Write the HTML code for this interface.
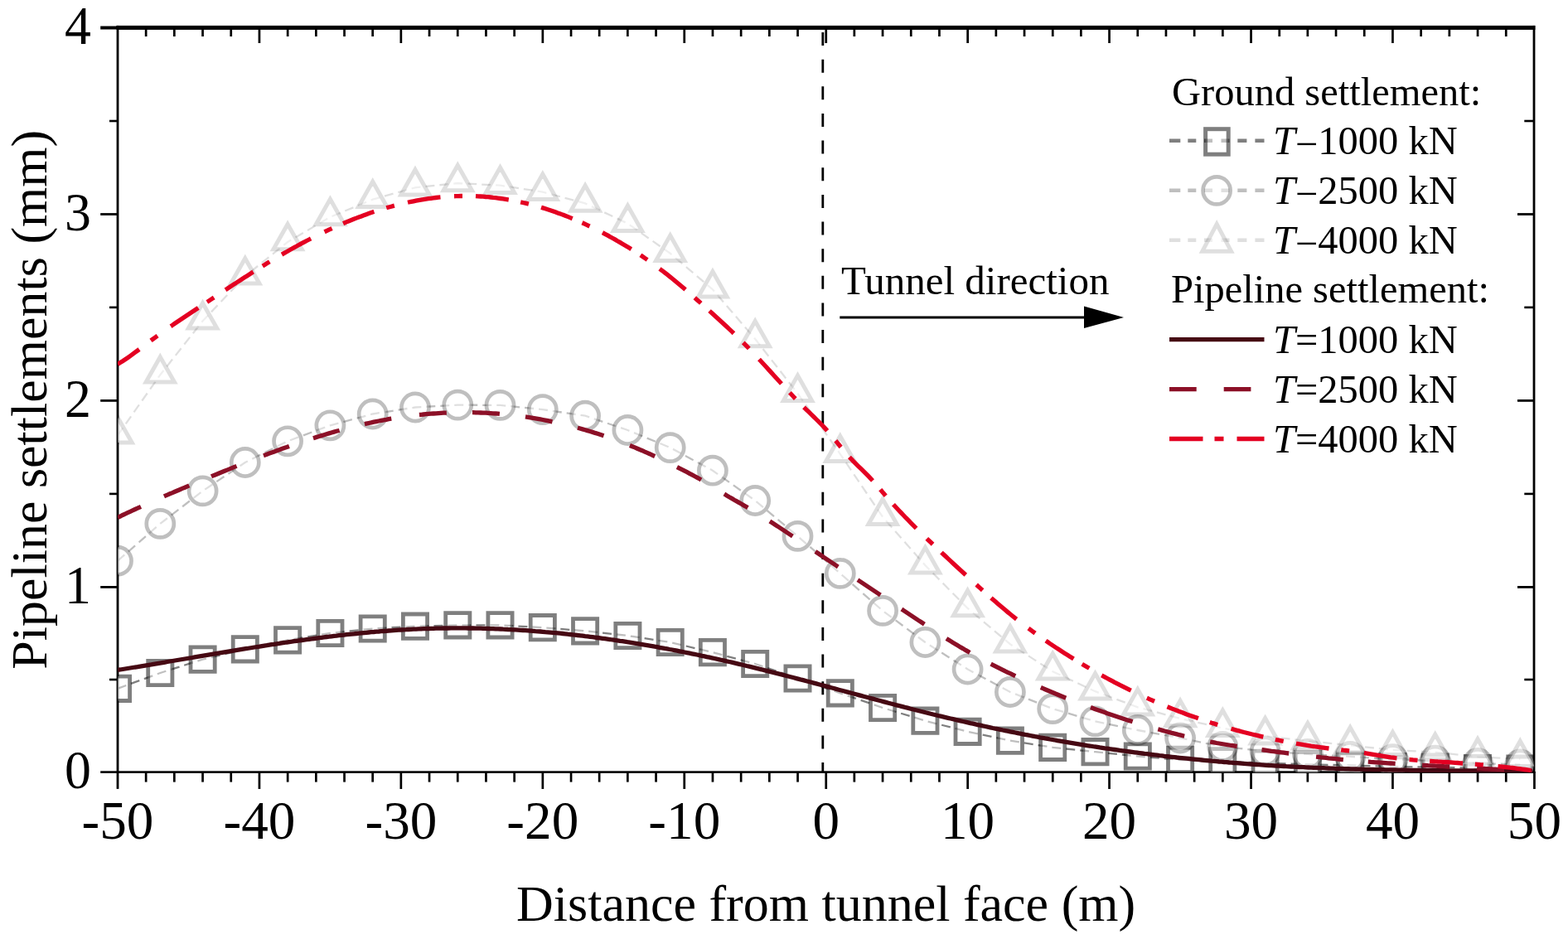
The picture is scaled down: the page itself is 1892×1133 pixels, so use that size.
<!DOCTYPE html><html><head><meta charset="utf-8"><title>Pipeline settlements</title><style>html,body{margin:0;padding:0;background:#fff;width:1892px;height:1133px;overflow:hidden}svg{display:block}text{font-family:"Liberation Serif","Times New Roman",serif;fill:#000}</style></head><body>
<svg width="1892" height="1133" viewBox="0 0 1892 1133">
<defs><clipPath id="pa"><rect x="142" y="33" width="1709.5" height="899"/></clipPath></defs>
<rect width="1892" height="1133" fill="#fff"/>
<rect x="140.6" y="30.9" width="1711.8" height="5" fill="#000"/>
<rect x="140.6" y="30.9" width="2.8" height="921" fill="#000"/>
<rect x="1849.6" y="30.9" width="2.8" height="902" fill="#000"/>
<rect x="121.2" y="930.3" width="1731" height="2.6" fill="#000"/>
<rect x="174.8" y="931" width="2.7" height="12.6" fill="#000"/>
<rect x="174.8" y="34" width="2.7" height="10" fill="#000"/>
<rect x="209.0" y="931" width="2.7" height="12.6" fill="#000"/>
<rect x="209.0" y="34" width="2.7" height="10" fill="#000"/>
<rect x="243.2" y="931" width="2.7" height="12.6" fill="#000"/>
<rect x="243.2" y="34" width="2.7" height="10" fill="#000"/>
<rect x="277.4" y="931" width="2.7" height="12.6" fill="#000"/>
<rect x="277.4" y="34" width="2.7" height="10" fill="#000"/>
<rect x="311.6" y="931" width="2.7" height="21" fill="#000"/>
<rect x="311.6" y="34" width="2.7" height="18" fill="#000"/>
<rect x="345.8" y="931" width="2.7" height="12.6" fill="#000"/>
<rect x="345.8" y="34" width="2.7" height="10" fill="#000"/>
<rect x="380.0" y="931" width="2.7" height="12.6" fill="#000"/>
<rect x="380.0" y="34" width="2.7" height="10" fill="#000"/>
<rect x="414.2" y="931" width="2.7" height="12.6" fill="#000"/>
<rect x="414.2" y="34" width="2.7" height="10" fill="#000"/>
<rect x="448.3" y="931" width="2.7" height="12.6" fill="#000"/>
<rect x="448.3" y="34" width="2.7" height="10" fill="#000"/>
<rect x="482.5" y="931" width="2.7" height="21" fill="#000"/>
<rect x="482.5" y="34" width="2.7" height="18" fill="#000"/>
<rect x="516.7" y="931" width="2.7" height="12.6" fill="#000"/>
<rect x="516.7" y="34" width="2.7" height="10" fill="#000"/>
<rect x="550.9" y="931" width="2.7" height="12.6" fill="#000"/>
<rect x="550.9" y="34" width="2.7" height="10" fill="#000"/>
<rect x="585.1" y="931" width="2.7" height="12.6" fill="#000"/>
<rect x="585.1" y="34" width="2.7" height="10" fill="#000"/>
<rect x="619.3" y="931" width="2.7" height="12.6" fill="#000"/>
<rect x="619.3" y="34" width="2.7" height="10" fill="#000"/>
<rect x="653.5" y="931" width="2.7" height="21" fill="#000"/>
<rect x="653.5" y="34" width="2.7" height="18" fill="#000"/>
<rect x="687.7" y="931" width="2.7" height="12.6" fill="#000"/>
<rect x="687.7" y="34" width="2.7" height="10" fill="#000"/>
<rect x="721.8" y="931" width="2.7" height="12.6" fill="#000"/>
<rect x="721.8" y="34" width="2.7" height="10" fill="#000"/>
<rect x="756.0" y="931" width="2.7" height="12.6" fill="#000"/>
<rect x="756.0" y="34" width="2.7" height="10" fill="#000"/>
<rect x="790.2" y="931" width="2.7" height="12.6" fill="#000"/>
<rect x="790.2" y="34" width="2.7" height="10" fill="#000"/>
<rect x="824.4" y="931" width="2.7" height="21" fill="#000"/>
<rect x="824.4" y="34" width="2.7" height="18" fill="#000"/>
<rect x="858.6" y="931" width="2.7" height="12.6" fill="#000"/>
<rect x="858.6" y="34" width="2.7" height="10" fill="#000"/>
<rect x="892.8" y="931" width="2.7" height="12.6" fill="#000"/>
<rect x="892.8" y="34" width="2.7" height="10" fill="#000"/>
<rect x="927.0" y="931" width="2.7" height="12.6" fill="#000"/>
<rect x="927.0" y="34" width="2.7" height="10" fill="#000"/>
<rect x="961.2" y="931" width="2.7" height="12.6" fill="#000"/>
<rect x="961.2" y="34" width="2.7" height="10" fill="#000"/>
<rect x="995.4" y="931" width="2.7" height="21" fill="#000"/>
<rect x="995.4" y="34" width="2.7" height="18" fill="#000"/>
<rect x="1029.5" y="931" width="2.7" height="12.6" fill="#000"/>
<rect x="1029.5" y="34" width="2.7" height="10" fill="#000"/>
<rect x="1063.7" y="931" width="2.7" height="12.6" fill="#000"/>
<rect x="1063.7" y="34" width="2.7" height="10" fill="#000"/>
<rect x="1097.9" y="931" width="2.7" height="12.6" fill="#000"/>
<rect x="1097.9" y="34" width="2.7" height="10" fill="#000"/>
<rect x="1132.1" y="931" width="2.7" height="12.6" fill="#000"/>
<rect x="1132.1" y="34" width="2.7" height="10" fill="#000"/>
<rect x="1166.3" y="931" width="2.7" height="21" fill="#000"/>
<rect x="1166.3" y="34" width="2.7" height="18" fill="#000"/>
<rect x="1200.5" y="931" width="2.7" height="12.6" fill="#000"/>
<rect x="1200.5" y="34" width="2.7" height="10" fill="#000"/>
<rect x="1234.7" y="931" width="2.7" height="12.6" fill="#000"/>
<rect x="1234.7" y="34" width="2.7" height="10" fill="#000"/>
<rect x="1268.9" y="931" width="2.7" height="12.6" fill="#000"/>
<rect x="1268.9" y="34" width="2.7" height="10" fill="#000"/>
<rect x="1303.0" y="931" width="2.7" height="12.6" fill="#000"/>
<rect x="1303.0" y="34" width="2.7" height="10" fill="#000"/>
<rect x="1337.2" y="931" width="2.7" height="21" fill="#000"/>
<rect x="1337.2" y="34" width="2.7" height="18" fill="#000"/>
<rect x="1371.4" y="931" width="2.7" height="12.6" fill="#000"/>
<rect x="1371.4" y="34" width="2.7" height="10" fill="#000"/>
<rect x="1405.6" y="931" width="2.7" height="12.6" fill="#000"/>
<rect x="1405.6" y="34" width="2.7" height="10" fill="#000"/>
<rect x="1439.8" y="931" width="2.7" height="12.6" fill="#000"/>
<rect x="1439.8" y="34" width="2.7" height="10" fill="#000"/>
<rect x="1474.0" y="931" width="2.7" height="12.6" fill="#000"/>
<rect x="1474.0" y="34" width="2.7" height="10" fill="#000"/>
<rect x="1508.2" y="931" width="2.7" height="21" fill="#000"/>
<rect x="1508.2" y="34" width="2.7" height="18" fill="#000"/>
<rect x="1542.4" y="931" width="2.7" height="12.6" fill="#000"/>
<rect x="1542.4" y="34" width="2.7" height="10" fill="#000"/>
<rect x="1576.5" y="931" width="2.7" height="12.6" fill="#000"/>
<rect x="1576.5" y="34" width="2.7" height="10" fill="#000"/>
<rect x="1610.7" y="931" width="2.7" height="12.6" fill="#000"/>
<rect x="1610.7" y="34" width="2.7" height="10" fill="#000"/>
<rect x="1644.9" y="931" width="2.7" height="12.6" fill="#000"/>
<rect x="1644.9" y="34" width="2.7" height="10" fill="#000"/>
<rect x="1679.1" y="931" width="2.7" height="21" fill="#000"/>
<rect x="1679.1" y="34" width="2.7" height="18" fill="#000"/>
<rect x="1713.3" y="931" width="2.7" height="12.6" fill="#000"/>
<rect x="1713.3" y="34" width="2.7" height="10" fill="#000"/>
<rect x="1747.5" y="931" width="2.7" height="12.6" fill="#000"/>
<rect x="1747.5" y="34" width="2.7" height="10" fill="#000"/>
<rect x="1781.7" y="931" width="2.7" height="12.6" fill="#000"/>
<rect x="1781.7" y="34" width="2.7" height="10" fill="#000"/>
<rect x="1815.9" y="931" width="2.7" height="12.6" fill="#000"/>
<rect x="1815.9" y="34" width="2.7" height="10" fill="#000"/>
<rect x="1850.1" y="931" width="2.7" height="21" fill="#000"/>
<rect x="121.2" y="707.0" width="21" height="2.8" fill="#000"/>
<rect x="1831" y="707.0" width="20" height="2.8" fill="#000"/>
<rect x="121.2" y="482.0" width="21" height="2.8" fill="#000"/>
<rect x="1831" y="482.0" width="20" height="2.8" fill="#000"/>
<rect x="121.2" y="257.1" width="21" height="2.8" fill="#000"/>
<rect x="1831" y="257.1" width="20" height="2.8" fill="#000"/>
<rect x="121.2" y="31.5" width="21" height="4" fill="#000"/>
<rect x="132" y="818.7" width="10" height="2.6" fill="#000"/>
<rect x="1839.3" y="818.7" width="11" height="2.6" fill="#000"/>
<rect x="132" y="594.6" width="10" height="2.6" fill="#000"/>
<rect x="1839.3" y="594.6" width="11" height="2.6" fill="#000"/>
<rect x="132" y="369.6" width="10" height="2.6" fill="#000"/>
<rect x="1839.3" y="369.6" width="11" height="2.6" fill="#000"/>
<rect x="132" y="144.7" width="10" height="2.6" fill="#000"/>
<rect x="1839.3" y="144.7" width="11" height="2.6" fill="#000"/>
<text transform="translate(110 951.1) scale(0.96 1)" font-size="66.5" text-anchor="end">0</text>
<text transform="translate(110 727.9) scale(0.96 1)" font-size="66.5" text-anchor="end">1</text>
<text transform="translate(110 502.9) scale(0.96 1)" font-size="66.5" text-anchor="end">2</text>
<text transform="translate(110 278.0) scale(0.96 1)" font-size="66.5" text-anchor="end">3</text>
<text transform="translate(110 53.0) scale(0.96 1)" font-size="66.5" text-anchor="end">4</text>
<text transform="translate(142.0 1012.3) scale(0.98 1)" font-size="66.5" text-anchor="middle">-50</text>
<text transform="translate(312.9 1012.3) scale(0.98 1)" font-size="66.5" text-anchor="middle">-40</text>
<text transform="translate(483.9 1012.3) scale(0.98 1)" font-size="66.5" text-anchor="middle">-30</text>
<text transform="translate(654.8 1012.3) scale(0.98 1)" font-size="66.5" text-anchor="middle">-20</text>
<text transform="translate(825.8 1012.3) scale(0.98 1)" font-size="66.5" text-anchor="middle">-10</text>
<text transform="translate(996.7 1012.3) scale(0.98 1)" font-size="66.5" text-anchor="middle">0</text>
<text transform="translate(1167.6 1012.3) scale(0.98 1)" font-size="66.5" text-anchor="middle">10</text>
<text transform="translate(1338.6 1012.3) scale(0.98 1)" font-size="66.5" text-anchor="middle">20</text>
<text transform="translate(1509.5 1012.3) scale(0.98 1)" font-size="66.5" text-anchor="middle">30</text>
<text transform="translate(1680.5 1012.3) scale(0.98 1)" font-size="66.5" text-anchor="middle">40</text>
<text transform="translate(1851.4 1012.3) scale(0.98 1)" font-size="66.5" text-anchor="middle">50</text>
<text x="996.6" y="1110.8" font-size="62" text-anchor="middle">Distance from tunnel face (m)</text>
<text transform="translate(56 482.3) rotate(-90)" font-size="62" text-anchor="middle">Pipeline settlements (mm)</text>
<line x1="992.8" y1="39.1" x2="992.8" y2="931" stroke="#000" stroke-width="2.8" stroke-dasharray="16 16.63"/>
<g clip-path="url(#pa)">
<polyline points="142.0,830.8 193.3,812.0 244.6,795.6 295.8,783.3 347.1,772.4 398.4,764.0 449.7,758.5 501.0,755.7 552.3,754.3 603.5,754.3 654.8,757.2 706.1,761.3 757.4,767.0 808.7,775.0 859.9,787.1 911.2,801.0 962.5,818.5 1013.8,836.3 1065.1,854.0 1116.4,869.7 1167.6,882.8 1218.9,893.7 1270.2,901.8 1321.5,907.2 1372.8,912.5 1424.1,916.9 1475.3,918.4 1526.6,920.8 1577.9,922.2 1629.2,923.5 1680.5,925.0 1731.7,925.6 1783.0,927.0 1834.3,927.7" fill="none" stroke="#000" stroke-opacity="0.5" stroke-width="2.3" stroke-dasharray="11 6"/>
<path d="M127.4,816.1h29.2v29.4h-29.2ZM178.7,797.3h29.2v29.4h-29.2ZM230.0,780.9h29.2v29.4h-29.2ZM281.2,768.6h29.2v29.4h-29.2ZM332.5,757.7h29.2v29.4h-29.2ZM383.8,749.3h29.2v29.4h-29.2ZM435.1,743.8h29.2v29.4h-29.2ZM486.4,741.0h29.2v29.4h-29.2ZM537.7,739.6h29.2v29.4h-29.2ZM588.9,739.6h29.2v29.4h-29.2ZM640.2,742.5h29.2v29.4h-29.2ZM691.5,746.6h29.2v29.4h-29.2ZM742.8,752.3h29.2v29.4h-29.2ZM794.1,760.3h29.2v29.4h-29.2ZM845.3,772.4h29.2v29.4h-29.2ZM896.6,786.3h29.2v29.4h-29.2ZM947.9,803.8h29.2v29.4h-29.2ZM999.2,821.6h29.2v29.4h-29.2ZM1050.5,839.3h29.2v29.4h-29.2ZM1101.8,855.0h29.2v29.4h-29.2ZM1153.0,868.1h29.2v29.4h-29.2ZM1204.3,879.0h29.2v29.4h-29.2ZM1255.6,887.1h29.2v29.4h-29.2ZM1306.9,892.5h29.2v29.4h-29.2ZM1358.2,897.8h29.2v29.4h-29.2ZM1409.5,902.2h29.2v29.4h-29.2ZM1460.7,903.7h29.2v29.4h-29.2ZM1512.0,906.1h29.2v29.4h-29.2ZM1563.3,907.5h29.2v29.4h-29.2ZM1614.6,908.8h29.2v29.4h-29.2ZM1665.9,910.3h29.2v29.4h-29.2ZM1717.1,910.9h29.2v29.4h-29.2ZM1768.4,912.3h29.2v29.4h-29.2ZM1819.7,913.0h29.2v29.4h-29.2Z" fill="#fff" fill-opacity="0.5" stroke="#000" stroke-opacity="0.5" stroke-width="4.8"/>
<polyline points="142.0,676.7 193.3,631.9 244.6,592.4 295.8,558.0 347.1,532.3 398.4,513.3 449.7,499.5 501.0,491.5 552.3,488.6 603.5,488.9 654.8,494.1 706.1,501.7 757.4,519.0 808.7,540.1 859.9,567.7 911.2,604.0 962.5,646.9 1013.8,691.9 1065.1,736.9 1116.4,775.0 1167.6,807.5 1218.9,835.0 1270.2,855.1 1321.5,870.4 1372.8,881.0 1424.1,890.5 1475.3,900.9 1526.6,906.4 1577.9,909.9 1629.2,912.9 1680.5,916.2 1731.7,917.7 1783.0,921.0 1834.3,922.4" fill="none" stroke="#000" stroke-opacity="0.25" stroke-width="2.3" stroke-dasharray="11 6"/>
<g fill="#fff" fill-opacity="0.5" stroke="#000" stroke-opacity="0.25" stroke-width="4.7"><circle cx="142.0" cy="676.7" r="16.55"/><circle cx="193.3" cy="631.9" r="16.55"/><circle cx="244.6" cy="592.4" r="16.55"/><circle cx="295.8" cy="558.0" r="16.55"/><circle cx="347.1" cy="532.3" r="16.55"/><circle cx="398.4" cy="513.3" r="16.55"/><circle cx="449.7" cy="499.5" r="16.55"/><circle cx="501.0" cy="491.5" r="16.55"/><circle cx="552.3" cy="488.6" r="16.55"/><circle cx="603.5" cy="488.9" r="16.55"/><circle cx="654.8" cy="494.1" r="16.55"/><circle cx="706.1" cy="501.7" r="16.55"/><circle cx="757.4" cy="519.0" r="16.55"/><circle cx="808.7" cy="540.1" r="16.55"/><circle cx="859.9" cy="567.7" r="16.55"/><circle cx="911.2" cy="604.0" r="16.55"/><circle cx="962.5" cy="646.9" r="16.55"/><circle cx="1013.8" cy="691.9" r="16.55"/><circle cx="1065.1" cy="736.9" r="16.55"/><circle cx="1116.4" cy="775.0" r="16.55"/><circle cx="1167.6" cy="807.5" r="16.55"/><circle cx="1218.9" cy="835.0" r="16.55"/><circle cx="1270.2" cy="855.1" r="16.55"/><circle cx="1321.5" cy="870.4" r="16.55"/><circle cx="1372.8" cy="881.0" r="16.55"/><circle cx="1424.1" cy="890.5" r="16.55"/><circle cx="1475.3" cy="900.9" r="16.55"/><circle cx="1526.6" cy="906.4" r="16.55"/><circle cx="1577.9" cy="909.9" r="16.55"/><circle cx="1629.2" cy="912.9" r="16.55"/><circle cx="1680.5" cy="916.2" r="16.55"/><circle cx="1731.7" cy="917.7" r="16.55"/><circle cx="1783.0" cy="921.0" r="16.55"/><circle cx="1834.3" cy="922.4" r="16.55"/></g>
<polyline points="142.0,525.2 193.3,452.3 244.6,387.3 295.8,333.3 347.1,292.0 398.4,261.9 449.7,240.7 501.0,226.3 552.3,221.0 603.5,223.7 654.8,231.6 706.1,245.4 757.4,269.7 808.7,305.7 859.9,349.2 911.2,409.0 962.5,474.7 1013.8,547.8 1065.1,623.8 1116.4,682.1 1167.6,734.0 1218.9,777.2 1270.2,810.2 1321.5,834.2 1372.8,853.3 1424.1,867.0 1475.3,878.6 1526.6,888.2 1577.9,894.1 1629.2,899.3 1680.5,905.0 1731.7,907.6 1783.0,913.3 1834.3,915.8" fill="none" stroke="#000" stroke-opacity="0.125" stroke-width="2.3" stroke-dasharray="11 6"/>
<path d="M142.0,503.6L159.2,534.0L124.8,534.0ZM193.3,430.7L210.5,461.1L176.1,461.1ZM244.6,365.7L261.8,396.1L227.4,396.1ZM295.8,311.7L313.0,342.1L278.6,342.1ZM347.1,270.4L364.3,300.8L329.9,300.8ZM398.4,240.3L415.6,270.7L381.2,270.7ZM449.7,219.1L466.9,249.5L432.5,249.5ZM501.0,204.7L518.2,235.1L483.8,235.1ZM552.3,199.4L569.5,229.8L535.1,229.8ZM603.5,202.1L620.7,232.5L586.3,232.5ZM654.8,210.0L672.0,240.4L637.6,240.4ZM706.1,223.8L723.3,254.2L688.9,254.2ZM757.4,248.1L774.6,278.5L740.2,278.5ZM808.7,284.1L825.9,314.5L791.5,314.5ZM859.9,327.6L877.1,358.0L842.7,358.0ZM911.2,387.4L928.4,417.8L894.0,417.8ZM962.5,453.1L979.7,483.5L945.3,483.5ZM1013.8,526.2L1031.0,556.6L996.6,556.6ZM1065.1,602.2L1082.3,632.6L1047.9,632.6ZM1116.4,660.5L1133.6,690.9L1099.2,690.9ZM1167.6,712.4L1184.8,742.8L1150.4,742.8ZM1218.9,755.6L1236.1,786.0L1201.7,786.0ZM1270.2,788.6L1287.4,819.0L1253.0,819.0ZM1321.5,812.6L1338.7,843.0L1304.3,843.0ZM1372.8,831.7L1390.0,862.1L1355.6,862.1ZM1424.1,845.4L1441.3,875.8L1406.9,875.8ZM1475.3,857.0L1492.5,887.4L1458.1,887.4ZM1526.6,866.6L1543.8,897.0L1509.4,897.0ZM1577.9,872.5L1595.1,902.9L1560.7,902.9ZM1629.2,877.7L1646.4,908.1L1612.0,908.1ZM1680.5,883.4L1697.7,913.8L1663.3,913.8ZM1731.7,886.0L1748.9,916.4L1714.5,916.4ZM1783.0,891.7L1800.2,922.1L1765.8,922.1ZM1834.3,894.2L1851.5,924.6L1817.1,924.6Z" fill="#fff" fill-opacity="0.5" stroke="#000" stroke-opacity="0.125" stroke-width="5"/>
<polyline points="142.0,808.4 145.0,808.0 148.0,807.5 151.0,807.0 154.0,806.5 157.0,806.0 160.0,805.5 163.0,805.0 166.0,804.6 169.0,804.1 172.0,803.6 175.0,803.1 178.0,802.6 181.0,802.1 184.0,801.6 187.0,801.1 190.0,800.6 193.0,800.1 196.0,799.6 199.0,799.1 202.0,798.5 205.0,798.0 208.0,797.5 211.0,797.0 214.0,796.5 217.0,796.0 220.0,795.5 223.0,795.0 226.0,794.5 229.0,794.0 232.0,793.5 235.0,792.9 238.0,792.4 241.0,791.9 244.0,791.4 247.0,790.9 250.0,790.4 253.0,789.9 256.0,789.4 259.0,788.9 262.0,788.4 265.0,787.9 268.0,787.4 271.0,786.9 274.0,786.4 277.0,785.9 280.0,785.4 283.0,784.9 286.0,784.4 289.0,783.9 292.0,783.4 295.0,782.9 298.0,782.5 301.0,782.0 304.0,781.5 307.0,781.0 310.0,780.5 313.0,780.1 316.0,779.6 319.0,779.1 322.0,778.7 325.0,778.2 328.0,777.7 331.0,777.3 334.0,776.8 337.0,776.4 340.0,775.9 343.0,775.5 346.0,775.0 349.0,774.6 352.0,774.2 355.0,773.7 358.0,773.3 361.0,772.9 364.0,772.5 367.0,772.1 370.0,771.7 373.0,771.3 376.0,770.9 379.0,770.5 382.0,770.1 385.0,769.7 388.0,769.3 391.0,768.9 394.0,768.5 397.0,768.2 400.0,767.8 403.0,767.4 406.0,767.1 409.0,766.7 412.0,766.4 415.0,766.1 418.0,765.7 421.0,765.4 424.0,765.1 427.0,764.8 430.0,764.5 433.0,764.2 436.0,763.9 439.0,763.6 442.0,763.3 445.0,763.0 448.0,762.7 451.0,762.5 454.0,762.2 457.0,762.0 460.0,761.7 463.0,761.5 466.0,761.3 469.0,761.0 472.0,760.8 475.0,760.6 478.0,760.4 481.0,760.2 484.0,760.0 487.0,759.8 490.0,759.7 493.0,759.5 496.0,759.3 499.0,759.2 502.0,759.1 505.0,758.9 508.0,758.8 511.0,758.7 514.0,758.6 517.0,758.5 520.0,758.4 523.0,758.3 526.0,758.2 529.0,758.2 532.0,758.1 535.0,758.0 538.0,758.0 541.0,758.0 544.0,757.9 547.0,757.9 550.0,757.9 553.0,757.9 556.0,757.9 559.0,757.9 562.0,757.9 565.0,758.0 568.0,758.0 571.0,758.0 574.0,758.1 577.0,758.2 580.0,758.2 583.0,758.3 586.0,758.4 589.0,758.5 592.0,758.6 595.0,758.7 598.0,758.8 601.0,758.9 604.0,759.0 607.0,759.2 610.0,759.3 613.0,759.5 616.0,759.6 619.0,759.8 622.0,759.9 625.0,760.1 628.0,760.3 631.0,760.5 634.0,760.7 637.0,760.9 640.0,761.1 643.0,761.3 646.0,761.6 649.0,761.8 652.0,762.0 655.0,762.3 658.0,762.6 661.0,762.8 664.0,763.1 667.0,763.4 670.0,763.6 673.0,763.9 676.0,764.2 679.0,764.5 682.0,764.8 685.0,765.2 688.0,765.5 691.0,765.8 694.0,766.1 697.0,766.5 700.0,766.8 703.0,767.2 706.0,767.6 709.0,767.9 712.0,768.3 715.0,768.7 718.0,769.1 721.0,769.5 724.0,769.9 727.0,770.3 730.0,770.7 733.0,771.1 736.0,771.5 739.0,772.0 742.0,772.4 745.0,772.8 748.0,773.3 751.0,773.7 754.0,774.2 757.0,774.7 760.0,775.1 763.0,775.6 766.0,776.1 769.0,776.6 772.0,777.1 775.0,777.6 778.0,778.1 781.0,778.6 784.0,779.1 787.0,779.6 790.0,780.2 793.0,780.7 796.0,781.3 799.0,781.8 802.0,782.4 805.0,782.9 808.0,783.5 811.0,784.0 814.0,784.6 817.0,785.2 820.0,785.8 823.0,786.4 826.0,787.0 829.0,787.6 832.0,788.2 835.0,788.8 838.0,789.4 841.0,790.0 844.0,790.6 847.0,791.3 850.0,791.9 853.0,792.6 856.0,793.2 859.0,793.8 862.0,794.5 865.0,795.2 868.0,795.8 871.0,796.5 874.0,797.2 877.0,797.9 880.0,798.5 883.0,799.2 886.0,799.9 889.0,800.6 892.0,801.3 895.0,802.0 898.0,802.7 901.0,803.5 904.0,804.2 907.0,804.9 910.0,805.6 913.0,806.4 916.0,807.1 919.0,807.8 922.0,808.6 925.0,809.3 928.0,810.1 931.0,810.9 934.0,811.6 937.0,812.4 940.0,813.1 943.0,813.9 946.0,814.7 949.0,815.5 952.0,816.2 955.0,817.0 958.0,817.8 961.0,818.6 964.0,819.4 967.0,820.2 970.0,820.9 973.0,821.7 976.0,822.5 979.0,823.3 982.0,824.1 985.0,824.9 988.0,825.7 991.0,826.5 994.0,827.3 997.0,828.1 1000.0,828.9 1003.0,829.7 1006.0,830.5 1009.0,831.4 1012.0,832.2 1015.0,833.0 1018.0,833.8 1021.0,834.6 1024.0,835.4 1027.0,836.2 1030.0,837.0 1033.0,837.8 1036.0,838.6 1039.0,839.4 1042.0,840.2 1045.0,841.0 1048.0,841.8 1051.0,842.6 1054.0,843.4 1057.0,844.2 1060.0,845.0 1063.0,845.8 1066.0,846.6 1069.0,847.4 1072.0,848.2 1075.0,849.0 1078.0,849.8 1081.0,850.6 1084.0,851.3 1087.0,852.1 1090.0,852.9 1093.0,853.7 1096.0,854.4 1099.0,855.2 1102.0,856.0 1105.0,856.7 1108.0,857.5 1111.0,858.3 1114.0,859.0 1117.0,859.8 1120.0,860.5 1123.0,861.3 1126.0,862.0 1129.0,862.7 1132.0,863.5 1135.0,864.2 1138.0,864.9 1141.0,865.6 1144.0,866.3 1147.0,867.0 1150.0,867.7 1153.0,868.4 1156.0,869.1 1159.0,869.8 1162.0,870.5 1165.0,871.2 1168.0,871.9 1171.0,872.6 1174.0,873.2 1177.0,873.9 1180.0,874.6 1183.0,875.2 1186.0,875.9 1189.0,876.5 1192.0,877.2 1195.0,877.8 1198.0,878.5 1201.0,879.1 1204.0,879.7 1207.0,880.3 1210.0,881.0 1213.0,881.6 1216.0,882.2 1219.0,882.8 1222.0,883.4 1225.0,884.0 1228.0,884.6 1231.0,885.2 1234.0,885.8 1237.0,886.4 1240.0,886.9 1243.0,887.5 1246.0,888.1 1249.0,888.7 1252.0,889.2 1255.0,889.8 1258.0,890.3 1261.0,890.9 1264.0,891.4 1267.0,892.0 1270.0,892.5 1273.0,893.0 1276.0,893.6 1279.0,894.1 1282.0,894.6 1285.0,895.1 1288.0,895.6 1291.0,896.1 1294.0,896.6 1297.0,897.1 1300.0,897.6 1303.0,898.1 1306.0,898.6 1309.0,899.1 1312.0,899.6 1315.0,900.0 1318.0,900.5 1321.0,901.0 1324.0,901.4 1327.0,901.9 1330.0,902.3 1333.0,902.8 1336.0,903.2 1339.0,903.7 1342.0,904.1 1345.0,904.5 1348.0,904.9 1351.0,905.4 1354.0,905.8 1357.0,906.2 1360.0,906.6 1363.0,907.0 1366.0,907.4 1369.0,907.8 1372.0,908.2 1375.0,908.6 1378.0,909.0 1381.0,909.4 1384.0,909.7 1387.0,910.1 1390.0,910.5 1393.0,910.8 1396.0,911.2 1399.0,911.6 1402.0,911.9 1405.0,912.3 1408.0,912.6 1411.0,913.0 1414.0,913.3 1417.0,913.6 1420.0,914.0 1423.0,914.3 1426.0,914.6 1429.0,914.9 1432.0,915.2 1435.0,915.5 1438.0,915.8 1441.0,916.1 1444.0,916.4 1447.0,916.7 1450.0,917.0 1453.0,917.3 1456.0,917.6 1459.0,917.9 1462.0,918.2 1465.0,918.4 1468.0,918.7 1471.0,919.0 1474.0,919.2 1477.0,919.5 1480.0,919.7 1483.0,920.0 1486.0,920.2 1489.0,920.5 1492.0,920.7 1495.0,920.9 1498.0,921.2 1501.0,921.4 1504.0,921.6 1507.0,921.8 1510.0,922.0 1513.0,922.3 1516.0,922.5 1519.0,922.7 1522.0,922.9 1525.0,923.1 1528.0,923.3 1531.0,923.5 1534.0,923.6 1537.0,923.8 1540.0,924.0 1543.0,924.2 1546.0,924.3 1549.0,924.5 1552.0,924.7 1555.0,924.8 1558.0,925.0 1561.0,925.2 1564.0,925.3 1567.0,925.5 1570.0,925.6 1573.0,925.7 1576.0,925.9 1579.0,926.0 1582.0,926.1 1585.0,926.3 1588.0,926.4 1591.0,926.5 1594.0,926.6 1597.0,926.7 1600.0,926.9 1603.0,927.0 1606.0,927.1 1609.0,927.2 1612.0,927.3 1615.0,927.4 1618.0,927.5 1621.0,927.6 1624.0,927.7 1627.0,927.7 1630.0,927.8 1633.0,927.9 1636.0,928.0 1639.0,928.1 1642.0,928.2 1645.0,928.2 1648.0,928.3 1651.0,928.4 1654.0,928.4 1657.0,928.5 1660.0,928.6 1663.0,928.6 1666.0,928.7 1669.0,928.7 1672.0,928.8 1675.0,928.9 1678.0,928.9 1681.0,929.0 1684.0,929.0 1687.0,929.1 1690.0,929.1 1693.0,929.1 1696.0,929.2 1699.0,929.2 1702.0,929.3 1705.0,929.3 1708.0,929.3 1711.0,929.4 1714.0,929.4 1717.0,929.4 1720.0,929.5 1723.0,929.5 1726.0,929.5 1729.0,929.6 1732.0,929.6 1735.0,929.6 1738.0,929.7 1741.0,929.7 1744.0,929.7 1747.0,929.7 1750.0,929.8 1753.0,929.8 1756.0,929.8 1759.0,929.8 1762.0,929.8 1765.0,929.9 1768.0,929.9 1771.0,929.9 1774.0,929.9 1777.0,930.0 1780.0,930.0 1783.0,930.0 1786.0,930.0 1789.0,930.0 1792.0,930.1 1795.0,930.1 1798.0,930.1 1801.0,930.1 1804.0,930.1 1807.0,930.2 1810.0,930.2 1813.0,930.2 1816.0,930.2 1819.0,930.2 1822.0,930.3 1825.0,930.3 1828.0,930.3 1831.0,930.3 1834.0,930.4 1837.0,930.4 1840.0,930.4 1843.0,930.4 1846.0,930.5 1849.0,930.5" fill="none" stroke="#460913" stroke-width="5.3"/>
<polyline points="142.0,624.4 145.0,623.0 148.0,621.5 151.0,620.1 154.0,618.7 157.0,617.3 160.0,615.9 163.0,614.5 166.0,613.2 169.0,611.8 172.0,610.4 175.0,609.1 178.0,607.7 181.0,606.4 184.0,605.0 187.0,603.7 190.0,602.4 193.0,601.1 196.0,599.8 199.0,598.4 202.0,597.1 205.0,595.8 208.0,594.6 211.0,593.3 214.0,592.0 217.0,590.7 220.0,589.4 223.0,588.2 226.0,586.9 229.0,585.6 232.0,584.4 235.0,583.1 238.0,581.9 241.0,580.6 244.0,579.4 247.0,578.1 250.0,576.9 253.0,575.7 256.0,574.4 259.0,573.2 262.0,572.0 265.0,570.7 268.0,569.5 271.0,568.3 274.0,567.1 277.0,565.9 280.0,564.6 283.0,563.4 286.0,562.2 289.0,561.0 292.0,559.9 295.0,558.7 298.0,557.5 301.0,556.3 304.0,555.1 307.0,554.0 310.0,552.8 313.0,551.7 316.0,550.5 319.0,549.4 322.0,548.2 325.0,547.1 328.0,546.0 331.0,544.9 334.0,543.8 337.0,542.7 340.0,541.6 343.0,540.5 346.0,539.5 349.0,538.4 352.0,537.4 355.0,536.3 358.0,535.3 361.0,534.3 364.0,533.3 367.0,532.3 370.0,531.3 373.0,530.3 376.0,529.3 379.0,528.4 382.0,527.4 385.0,526.5 388.0,525.6 391.0,524.7 394.0,523.8 397.0,522.9 400.0,522.0 403.0,521.1 406.0,520.3 409.0,519.5 412.0,518.6 415.0,517.8 418.0,517.0 421.0,516.3 424.0,515.5 427.0,514.7 430.0,514.0 433.0,513.3 436.0,512.5 439.0,511.9 442.0,511.2 445.0,510.5 448.0,509.9 451.0,509.2 454.0,508.6 457.0,508.0 460.0,507.4 463.0,506.8 466.0,506.3 469.0,505.7 472.0,505.2 475.0,504.7 478.0,504.2 481.0,503.7 484.0,503.3 487.0,502.9 490.0,502.4 493.0,502.0 496.0,501.7 499.0,501.3 502.0,500.9 505.0,500.6 508.0,500.3 511.0,500.0 514.0,499.7 517.0,499.4 520.0,499.2 523.0,499.0 526.0,498.8 529.0,498.6 532.0,498.4 535.0,498.2 538.0,498.1 541.0,498.0 544.0,497.9 547.0,497.8 550.0,497.7 553.0,497.7 556.0,497.6 559.0,497.6 562.0,497.6 565.0,497.6 568.0,497.7 571.0,497.7 574.0,497.8 577.0,497.9 580.0,498.0 583.0,498.1 586.0,498.2 589.0,498.4 592.0,498.6 595.0,498.8 598.0,499.0 601.0,499.2 604.0,499.5 607.0,499.7 610.0,500.0 613.0,500.3 616.0,500.7 619.0,501.0 622.0,501.4 625.0,501.7 628.0,502.1 631.0,502.5 634.0,503.0 637.0,503.4 640.0,503.9 643.0,504.4 646.0,504.9 649.0,505.4 652.0,505.9 655.0,506.5 658.0,507.1 661.0,507.7 664.0,508.3 667.0,508.9 670.0,509.5 673.0,510.2 676.0,510.9 679.0,511.6 682.0,512.3 685.0,513.0 688.0,513.8 691.0,514.6 694.0,515.4 697.0,516.2 700.0,517.0 703.0,517.9 706.0,518.7 709.0,519.6 712.0,520.5 715.0,521.4 718.0,522.4 721.0,523.3 724.0,524.3 727.0,525.3 730.0,526.3 733.0,527.3 736.0,528.4 739.0,529.5 742.0,530.6 745.0,531.7 748.0,532.8 751.0,533.9 754.0,535.1 757.0,536.3 760.0,537.5 763.0,538.7 766.0,539.9 769.0,541.2 772.0,542.5 775.0,543.7 778.0,545.1 781.0,546.4 784.0,547.7 787.0,549.1 790.0,550.5 793.0,551.9 796.0,553.3 799.0,554.8 802.0,556.2 805.0,557.7 808.0,559.2 811.0,560.7 814.0,562.1 817.0,563.6 820.0,565.2 823.0,566.7 826.0,568.2 829.0,569.7 832.0,571.3 835.0,572.9 838.0,574.5 841.0,576.1 844.0,577.8 847.0,579.6 850.0,581.3 853.0,583.1 856.0,585.0 859.0,586.8 862.0,588.7 865.0,590.6 868.0,592.4 871.0,594.3 874.0,596.1 877.0,597.9 880.0,599.7 883.0,601.4 886.0,603.2 889.0,604.9 892.0,606.6 895.0,608.3 898.0,610.1 901.0,611.8 904.0,613.6 907.0,615.4 910.0,617.2 913.0,619.0 916.0,620.8 919.0,622.7 922.0,624.6 925.0,626.5 928.0,628.4 931.0,630.3 934.0,632.2 937.0,634.2 940.0,636.1 943.0,638.1 946.0,640.1 949.0,642.1 952.0,644.1 955.0,646.1 958.0,648.1 961.0,650.1 964.0,652.1 967.0,654.1 970.0,656.2 973.0,658.2 976.0,660.2 979.0,662.3 982.0,664.3 985.0,666.3 988.0,668.3 991.0,670.3 994.0,672.4 997.0,674.4 1000.0,676.4 1003.0,678.4 1006.0,680.4 1009.0,682.4 1012.0,684.4 1015.0,686.4 1018.0,688.4 1021.0,690.4 1024.0,692.4 1027.0,694.4 1030.0,696.4 1033.0,698.4 1036.0,700.4 1039.0,702.4 1042.0,704.4 1045.0,706.4 1048.0,708.4 1051.0,710.4 1054.0,712.4 1057.0,714.4 1060.0,716.4 1063.0,718.4 1066.0,720.4 1069.0,722.4 1072.0,724.4 1075.0,726.4 1078.0,728.4 1081.0,730.4 1084.0,732.4 1087.0,734.4 1090.0,736.4 1093.0,738.4 1096.0,740.4 1099.0,742.4 1102.0,744.4 1105.0,746.4 1108.0,748.4 1111.0,750.3 1114.0,752.3 1117.0,754.3 1120.0,756.3 1123.0,758.2 1126.0,760.2 1129.0,762.1 1132.0,764.1 1135.0,766.0 1138.0,767.9 1141.0,769.8 1144.0,771.7 1147.0,773.6 1150.0,775.4 1153.0,777.2 1156.0,779.1 1159.0,780.9 1162.0,782.6 1165.0,784.4 1168.0,786.1 1171.0,787.9 1174.0,789.6 1177.0,791.2 1180.0,792.9 1183.0,794.5 1186.0,796.1 1189.0,797.7 1192.0,799.3 1195.0,800.9 1198.0,802.4 1201.0,803.9 1204.0,805.4 1207.0,806.9 1210.0,808.4 1213.0,809.9 1216.0,811.3 1219.0,812.7 1222.0,814.2 1225.0,815.6 1228.0,817.0 1231.0,818.4 1234.0,819.8 1237.0,821.1 1240.0,822.5 1243.0,823.8 1246.0,825.2 1249.0,826.5 1252.0,827.8 1255.0,829.1 1258.0,830.4 1261.0,831.7 1264.0,833.0 1267.0,834.3 1270.0,835.5 1273.0,836.8 1276.0,838.0 1279.0,839.3 1282.0,840.5 1285.0,841.7 1288.0,842.9 1291.0,844.1 1294.0,845.2 1297.0,846.4 1300.0,847.6 1303.0,848.7 1306.0,849.9 1309.0,851.0 1312.0,852.1 1315.0,853.2 1318.0,854.3 1321.0,855.4 1324.0,856.5 1327.0,857.5 1330.0,858.6 1333.0,859.6 1336.0,860.7 1339.0,861.7 1342.0,862.7 1345.0,863.7 1348.0,864.7 1351.0,865.7 1354.0,866.7 1357.0,867.7 1360.0,868.7 1363.0,869.6 1366.0,870.5 1369.0,871.5 1372.0,872.4 1375.0,873.3 1378.0,874.2 1381.0,875.1 1384.0,876.0 1387.0,876.9 1390.0,877.8 1393.0,878.6 1396.0,879.5 1399.0,880.3 1402.0,881.1 1405.0,882.0 1408.0,882.8 1411.0,883.6 1414.0,884.4 1417.0,885.1 1420.0,885.9 1423.0,886.7 1426.0,887.4 1429.0,888.2 1432.0,888.9 1435.0,889.6 1438.0,890.3 1441.0,891.0 1444.0,891.6 1447.0,892.3 1450.0,892.9 1453.0,893.6 1456.0,894.2 1459.0,894.8 1462.0,895.3 1465.0,895.9 1468.0,896.5 1471.0,897.0 1474.0,897.5 1477.0,898.0 1480.0,898.5 1483.0,899.0 1486.0,899.5 1489.0,899.9 1492.0,900.4 1495.0,900.8 1498.0,901.3 1501.0,901.7 1504.0,902.2 1507.0,902.6 1510.0,903.0 1513.0,903.4 1516.0,903.8 1519.0,904.2 1522.0,904.6 1525.0,905.0 1528.0,905.4 1531.0,905.8 1534.0,906.3 1537.0,906.7 1540.0,907.1 1543.0,907.5 1546.0,907.8 1549.0,908.2 1552.0,908.6 1555.0,909.0 1558.0,909.4 1561.0,909.8 1564.0,910.2 1567.0,910.5 1570.0,910.9 1573.0,911.3 1576.0,911.7 1579.0,912.0 1582.0,912.4 1585.0,912.7 1588.0,913.1 1591.0,913.4 1594.0,913.8 1597.0,914.1 1600.0,914.4 1603.0,914.8 1606.0,915.1 1609.0,915.4 1612.0,915.7 1615.0,916.0 1618.0,916.3 1621.0,916.6 1624.0,916.9 1627.0,917.1 1630.0,917.4 1633.0,917.7 1636.0,917.9 1639.0,918.2 1642.0,918.4 1645.0,918.7 1648.0,918.9 1651.0,919.1 1654.0,919.4 1657.0,919.6 1660.0,919.8 1663.0,920.0 1666.0,920.2 1669.0,920.4 1672.0,920.6 1675.0,920.8 1678.0,921.0 1681.0,921.2 1684.0,921.4 1687.0,921.6 1690.0,921.8 1693.0,922.0 1696.0,922.1 1699.0,922.3 1702.0,922.5 1705.0,922.7 1708.0,922.8 1711.0,923.0 1714.0,923.2 1717.0,923.3 1720.0,923.5 1723.0,923.7 1726.0,923.8 1729.0,924.0 1732.0,924.2 1735.0,924.3 1738.0,924.5 1741.0,924.6 1744.0,924.8 1747.0,925.0 1750.0,925.1 1753.0,925.3 1756.0,925.5 1759.0,925.6 1762.0,925.8 1765.0,926.0 1768.0,926.1 1771.0,926.3 1774.0,926.5 1777.0,926.6 1780.0,926.8 1783.0,927.0 1786.0,927.1 1789.0,927.3 1792.0,927.5 1795.0,927.6 1798.0,927.8 1801.0,928.0 1804.0,928.1 1807.0,928.3 1810.0,928.4 1813.0,928.6 1816.0,928.8 1819.0,928.9 1822.0,929.1 1825.0,929.2 1828.0,929.4 1831.0,929.5 1834.0,929.7 1837.0,929.8 1840.0,930.0 1843.0,930.1 1846.0,930.3 1849.0,930.4" fill="none" stroke="#8c1027" stroke-width="5.3" stroke-dasharray="0.0 0.0 30.9 30.6 33.0 28.9 33.0 34.8 33.0 30.6 33.0 31.3 33.0 34.0 33.0 31.1 33.0 31.3 33.0 31.4 33.0 33.5 33.0 29.7 33.0 32.6 33.0 31.1 33.0 33.1 33.0 28.4 33.0 30.7 33.0 31.6 33.0 28.9 33.0 33.5 33.0 31.8 53.5 32.0 33.0 31.7 33.0 30.1 33.0 33.1 33.0 30.0 33.0 32.5 33.0 33.1 33.0 30.7 33.0 5000.0"/>
<polyline points="142.0,439.4 145.0,437.6 148.0,435.7 151.0,433.7 154.0,431.7 157.0,429.6 160.0,427.4 163.0,425.2 166.0,423.0 169.0,420.8 172.0,418.5 175.0,416.3 178.0,414.0 181.0,411.7 184.0,409.5 187.0,407.3 190.0,405.1 193.0,402.9 196.0,400.7 199.0,398.6 202.0,396.5 205.0,394.4 208.0,392.4 211.0,390.3 214.0,388.3 217.0,386.3 220.0,384.3 223.0,382.3 226.0,380.3 229.0,378.3 232.0,376.3 235.0,374.3 238.0,372.3 241.0,370.3 244.0,368.3 247.0,366.3 250.0,364.4 253.0,362.4 256.0,360.4 259.0,358.4 262.0,356.4 265.0,354.4 268.0,352.4 271.0,350.4 274.0,348.5 277.0,346.5 280.0,344.5 283.0,342.6 286.0,340.6 289.0,338.7 292.0,336.7 295.0,334.8 298.0,332.9 301.0,331.0 304.0,329.0 307.0,327.2 310.0,325.3 313.0,323.4 316.0,321.5 319.0,319.7 322.0,317.8 325.0,316.0 328.0,314.2 331.0,312.4 334.0,310.6 337.0,308.9 340.0,307.1 343.0,305.4 346.0,303.7 349.0,302.0 352.0,300.3 355.0,298.6 358.0,297.0 361.0,295.3 364.0,293.7 367.0,292.1 370.0,290.5 373.0,289.0 376.0,287.4 379.0,285.9 382.0,284.4 385.0,282.9 388.0,281.5 391.0,280.0 394.0,278.6 397.0,277.2 400.0,275.8 403.0,274.4 406.0,273.1 409.0,271.8 412.0,270.5 415.0,269.2 418.0,267.9 421.0,266.7 424.0,265.5 427.0,264.3 430.0,263.1 433.0,262.0 436.0,260.9 439.0,259.8 442.0,258.7 445.0,257.6 448.0,256.6 451.0,255.6 454.0,254.6 457.0,253.6 460.0,252.7 463.0,251.8 466.0,250.9 469.0,250.0 472.0,249.2 475.0,248.4 478.0,247.6 481.0,246.8 484.0,246.1 487.0,245.3 490.0,244.7 493.0,244.0 496.0,243.4 499.0,242.8 502.0,242.2 505.0,241.6 508.0,241.1 511.0,240.6 514.0,240.1 517.0,239.7 520.0,239.3 523.0,238.9 526.0,238.5 529.0,238.2 532.0,237.9 535.0,237.6 538.0,237.3 541.0,237.1 544.0,236.9 547.0,236.8 550.0,236.7 553.0,236.6 556.0,236.5 559.0,236.5 562.0,236.5 565.0,236.5 568.0,236.5 571.0,236.6 574.0,236.7 577.0,236.9 580.0,237.0 583.0,237.2 586.0,237.5 589.0,237.7 592.0,238.0 595.0,238.4 598.0,238.7 601.0,239.1 604.0,239.5 607.0,239.9 610.0,240.4 613.0,240.9 616.0,241.4 619.0,242.0 622.0,242.6 625.0,243.2 628.0,243.8 631.0,244.5 634.0,245.2 637.0,245.9 640.0,246.7 643.0,247.5 646.0,248.3 649.0,249.1 652.0,250.0 655.0,250.9 658.0,251.8 661.0,252.8 664.0,253.7 667.0,254.7 670.0,255.8 673.0,256.9 676.0,257.9 679.0,259.1 682.0,260.2 685.0,261.4 688.0,262.6 691.0,263.8 694.0,265.1 697.0,266.4 700.0,267.7 703.0,269.0 706.0,270.4 709.0,271.8 712.0,273.2 715.0,274.7 718.0,276.1 721.0,277.7 724.0,279.2 727.0,280.7 730.0,282.3 733.0,283.9 736.0,285.6 739.0,287.2 742.0,288.9 745.0,290.7 748.0,292.4 751.0,294.2 754.0,296.0 757.0,297.8 760.0,299.6 763.0,301.5 766.0,303.4 769.0,305.4 772.0,307.3 775.0,309.3 778.0,311.4 781.0,313.4 784.0,315.5 787.0,317.6 790.0,319.8 793.0,322.0 796.0,324.3 799.0,326.5 802.0,328.9 805.0,331.2 808.0,333.6 811.0,336.0 814.0,338.5 817.0,341.0 820.0,343.5 823.0,346.0 826.0,348.6 829.0,351.2 832.0,353.8 835.0,356.4 838.0,359.0 841.0,361.7 844.0,364.3 847.0,367.0 850.0,369.7 853.0,372.4 856.0,375.1 859.0,377.8 862.0,380.5 865.0,383.2 868.0,386.0 871.0,388.7 874.0,391.5 877.0,394.3 880.0,397.1 883.0,399.9 886.0,402.8 889.0,405.7 892.0,408.6 895.0,411.6 898.0,414.6 901.0,417.6 904.0,420.7 907.0,423.9 910.0,427.1 913.0,430.3 916.0,433.5 919.0,436.7 922.0,440.0 925.0,443.3 928.0,446.6 931.0,449.9 934.0,453.2 937.0,456.5 940.0,459.8 943.0,463.1 946.0,466.3 949.0,469.6 952.0,472.8 955.0,476.0 958.0,479.2 961.0,482.3 964.0,485.4 967.0,488.4 970.0,491.4 973.0,494.3 976.0,497.2 979.0,500.1 982.0,503.0 985.0,506.0 988.0,508.9 991.0,512.0 994.0,515.1 997.0,518.4 1000.0,521.8 1003.0,525.3 1006.0,528.9 1009.0,532.6 1012.0,536.2 1015.0,539.9 1018.0,543.5 1021.0,547.0 1024.0,550.4 1027.0,553.7 1030.0,556.8 1033.0,559.8 1036.0,562.8 1039.0,565.7 1042.0,568.6 1045.0,571.6 1048.0,574.7 1051.0,577.8 1054.0,581.1 1057.0,584.5 1060.0,588.0 1063.0,591.5 1066.0,595.1 1069.0,598.5 1072.0,602.0 1075.0,605.3 1078.0,608.7 1081.0,612.0 1084.0,615.2 1087.0,618.4 1090.0,621.5 1093.0,624.7 1096.0,627.7 1099.0,630.8 1102.0,633.8 1105.0,636.8 1108.0,639.8 1111.0,642.7 1114.0,645.7 1117.0,648.6 1120.0,651.5 1123.0,654.3 1126.0,657.2 1129.0,660.0 1132.0,662.9 1135.0,665.7 1138.0,668.5 1141.0,671.3 1144.0,674.1 1147.0,676.9 1150.0,679.7 1153.0,682.5 1156.0,685.3 1159.0,688.0 1162.0,690.8 1165.0,693.5 1168.0,696.3 1171.0,699.0 1174.0,701.7 1177.0,704.5 1180.0,707.2 1183.0,709.9 1186.0,712.6 1189.0,715.3 1192.0,717.9 1195.0,720.6 1198.0,723.2 1201.0,725.8 1204.0,728.4 1207.0,731.0 1210.0,733.5 1213.0,736.1 1216.0,738.6 1219.0,741.0 1222.0,743.5 1225.0,745.9 1228.0,748.2 1231.0,750.6 1234.0,752.9 1237.0,755.2 1240.0,757.4 1243.0,759.6 1246.0,761.8 1249.0,764.0 1252.0,766.2 1255.0,768.3 1258.0,770.4 1261.0,772.5 1264.0,774.5 1267.0,776.6 1270.0,778.6 1273.0,780.6 1276.0,782.6 1279.0,784.5 1282.0,786.5 1285.0,788.4 1288.0,790.3 1291.0,792.2 1294.0,794.1 1297.0,796.0 1300.0,797.8 1303.0,799.6 1306.0,801.4 1309.0,803.2 1312.0,805.0 1315.0,806.7 1318.0,808.5 1321.0,810.2 1324.0,811.9 1327.0,813.6 1330.0,815.2 1333.0,816.9 1336.0,818.5 1339.0,820.1 1342.0,821.7 1345.0,823.3 1348.0,824.8 1351.0,826.4 1354.0,827.9 1357.0,829.4 1360.0,830.9 1363.0,832.4 1366.0,833.8 1369.0,835.3 1372.0,836.7 1375.0,838.1 1378.0,839.5 1381.0,840.9 1384.0,842.2 1387.0,843.6 1390.0,844.9 1393.0,846.2 1396.0,847.5 1399.0,848.8 1402.0,850.1 1405.0,851.3 1408.0,852.5 1411.0,853.8 1414.0,855.0 1417.0,856.1 1420.0,857.3 1423.0,858.5 1426.0,859.6 1429.0,860.7 1432.0,861.9 1435.0,862.9 1438.0,864.0 1441.0,865.1 1444.0,866.1 1447.0,867.2 1450.0,868.2 1453.0,869.2 1456.0,870.2 1459.0,871.2 1462.0,872.2 1465.0,873.1 1468.0,874.1 1471.0,875.0 1474.0,875.9 1477.0,876.8 1480.0,877.7 1483.0,878.5 1486.0,879.4 1489.0,880.2 1492.0,881.1 1495.0,881.9 1498.0,882.7 1501.0,883.5 1504.0,884.2 1507.0,885.0 1510.0,885.8 1513.0,886.5 1516.0,887.2 1519.0,887.9 1522.0,888.6 1525.0,889.3 1528.0,890.0 1531.0,890.7 1534.0,891.3 1537.0,891.9 1540.0,892.6 1543.0,893.2 1546.0,893.8 1549.0,894.4 1552.0,894.9 1555.0,895.5 1558.0,896.1 1561.0,896.6 1564.0,897.1 1567.0,897.7 1570.0,898.2 1573.0,898.7 1576.0,899.1 1579.0,899.6 1582.0,900.1 1585.0,900.5 1588.0,901.0 1591.0,901.4 1594.0,901.8 1597.0,902.2 1600.0,902.6 1603.0,903.0 1606.0,903.4 1609.0,903.8 1612.0,904.1 1615.0,904.5 1618.0,904.8 1621.0,905.2 1624.0,905.5 1627.0,905.9 1630.0,906.3 1633.0,906.6 1636.0,907.0 1639.0,907.4 1642.0,907.9 1645.0,908.3 1648.0,908.8 1651.0,909.3 1654.0,909.8 1657.0,910.3 1660.0,910.8 1663.0,911.3 1666.0,911.8 1669.0,912.3 1672.0,912.8 1675.0,913.3 1678.0,913.8 1681.0,914.2 1684.0,914.7 1687.0,915.1 1690.0,915.4 1693.0,915.8 1696.0,916.1 1699.0,916.4 1702.0,916.6 1705.0,916.9 1708.0,917.1 1711.0,917.4 1714.0,917.6 1717.0,917.8 1720.0,918.0 1723.0,918.2 1726.0,918.4 1729.0,918.6 1732.0,918.8 1735.0,919.0 1738.0,919.1 1741.0,919.3 1744.0,919.5 1747.0,919.7 1750.0,919.9 1753.0,920.1 1756.0,920.3 1759.0,920.5 1762.0,920.8 1765.0,921.0 1768.0,921.2 1771.0,921.4 1774.0,921.6 1777.0,921.9 1780.0,922.1 1783.0,922.3 1786.0,922.6 1789.0,922.8 1792.0,923.1 1795.0,923.4 1798.0,923.6 1801.0,923.9 1804.0,924.2 1807.0,924.5 1810.0,924.8 1813.0,925.1 1816.0,925.5 1819.0,925.8 1822.0,926.2 1825.0,926.5 1828.0,926.9 1831.0,927.3 1834.0,927.7 1837.0,928.1 1840.0,928.5 1843.0,928.9 1846.0,929.3 1849.0,929.8" fill="none" stroke="#e40022" stroke-width="5.3" stroke-dasharray="0.0 0.0 31.6 17.5 10.0 19.6 40.0 12.7 10.0 16.6 40.0 13.2 10.0 17.1 40.0 18.3 10.0 14.7 40.0 15.5 10.0 16.6 40.0 16.6 10.0 16.0 40.0 14.7 10.0 15.7 40.0 12.8 10.0 17.3 40.0 13.3 10.0 18.4 40.0 14.9 10.0 13.8 40.0 15.9 10.0 17.8 40.0 14.7 10.0 14.5 40.0 15.7 10.0 15.8 40.0 14.1 10.0 13.9 40.0 17.7 10.0 14.3 40.0 17.5 10.0 13.8 40.0 18.1 10.0 15.8 40.0 12.0 10.0 17.2 40.0 21.1 10.0 16.8 40.0 14.6 10.0 17.0 40.0 14.9 10.0 15.5 40.0 14.8 10.0 18.0 40.0 15.2 10.0 14.7 40.0 14.8 10.0 17.8 40.0 5000.0"/>
</g>
<text x="1015" y="355" font-size="49">Tunnel direction</text>
<line x1="1013.3" y1="382.9" x2="1312" y2="382.9" stroke="#000" stroke-width="3"/>
<path d="M1308,369.6L1356,382.9L1308,396Z" fill="#000"/>
<text x="1414" y="126.6" font-size="48.5">Ground settlement:</text>
<path d="M1411,169.7h13.3M1433.3,169.7h10M1453,169.7h10M1473.5,169.7h10M1493.3,169.7h11.1M1514.4,169.7h11.1" fill="none" stroke="#000" stroke-opacity="0.5" stroke-width="4.6"/><rect x="1454.6" y="155.7" width="27.6" height="30.5" fill="#fff" fill-opacity="0.5" stroke="#000" stroke-opacity="0.5" stroke-width="5"/><text x="1536" y="185.7" font-size="48.5"><tspan font-style="italic">T</tspan><tspan dy="4.4">−</tspan><tspan dy="-4.4">1000 kN</tspan></text>
<path d="M1411,229.8h13.3M1433.3,229.8h10M1453,229.8h10M1473.5,229.8h10M1493.3,229.8h11.1M1514.4,229.8h11.1" fill="none" stroke="#000" stroke-opacity="0.25" stroke-width="4.6"/><circle cx="1468.1" cy="229.9" r="16.55" fill="#fff" fill-opacity="0.5" stroke="#000" stroke-opacity="0.25" stroke-width="4.7"/><text x="1536" y="245.7" font-size="48.5"><tspan font-style="italic">T</tspan><tspan dy="4.4">−</tspan><tspan dy="-4.4">2500 kN</tspan></text>
<path d="M1411,289.8h13.3M1433.3,289.8h10M1453,289.8h10M1473.5,289.8h10M1493.3,289.8h11.1M1514.4,289.8h11.1" fill="none" stroke="#000" stroke-opacity="0.125" stroke-width="4.6"/><path d="M1468.2,270.4L1485.6,303.2L1450.8,303.2Z" fill="#fff" fill-opacity="0.5" stroke="#000" stroke-opacity="0.125" stroke-width="5"/><text x="1536" y="305.7" font-size="48.5"><tspan font-style="italic">T</tspan><tspan dy="4.4">−</tspan><tspan dy="-4.4">4000 kN</tspan></text>
<text x="1413" y="365" font-size="48.5">Pipeline settlement:</text>
<line x1="1411" y1="409.7" x2="1525.5" y2="409.7" stroke="#460913" stroke-width="5.3"/><text x="1536" y="425.7" font-size="48.5"><tspan font-style="italic">T</tspan>=1000 kN</text>
<line x1="1411" y1="469.6" x2="1525.5" y2="469.6" stroke="#8c1027" stroke-width="5.3" stroke-dasharray="32.7 33"/><text x="1536" y="485.7" font-size="48.5"><tspan font-style="italic">T</tspan>=2500 kN</text>
<line x1="1411" y1="529.5" x2="1525.5" y2="529.5" stroke="#e40022" stroke-width="5.3" stroke-dasharray="40.5 14 11 16"/><text x="1536" y="545.7" font-size="48.5"><tspan font-style="italic">T</tspan>=4000 kN</text>
</svg></body></html>
